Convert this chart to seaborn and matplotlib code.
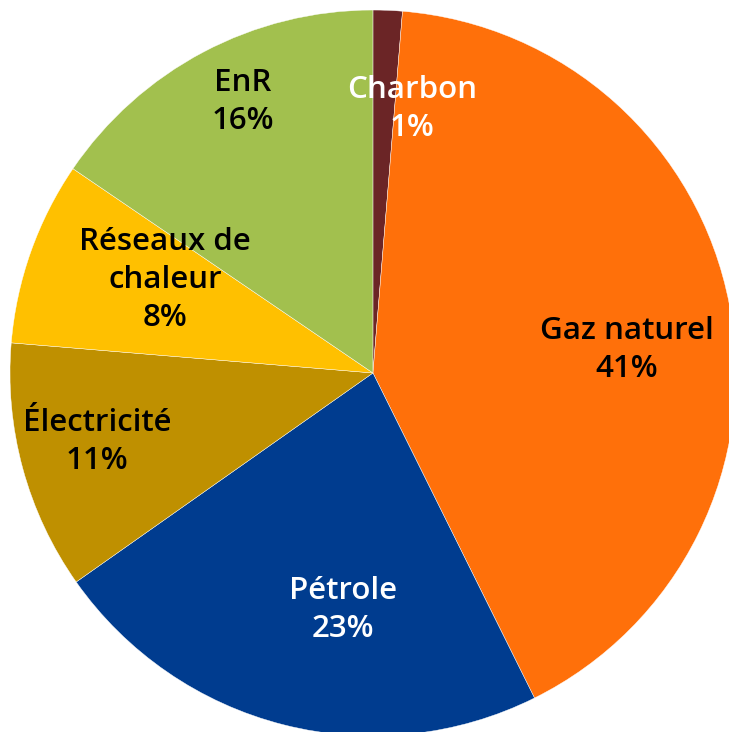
import matplotlib
matplotlib.use('Agg')
import matplotlib.pyplot as plt
import seaborn as sns

sources = ['Charbon', 'Gaz naturel', 'Pétrole', 'Électricité', 'Réseaux de\nchaleur', 'EnR']
shares = [1.3, 41.4, 22.6, 11.1, 8.2, 15.5]
pct_labels = ['1%', '41%', '23%', '11%', '8%', '16%']

sns.set_style('white')
plt.rcParams['font.family'] = ['Open Sans', 'DejaVu Sans']

colors = sns.color_palette(['#6B2526', '#FF700A', '#003C8F', '#BF9000', '#FFC000', '#A2C04E'])
text_colors = ['white', 'black', 'white', 'black', 'black', 'black']
label_pos = [(0.107, 0.727), (0.700, 0.063), (-0.083, -0.653),
             (-0.760, -0.190), (-0.573, 0.256), (-0.358, 0.747)]

fig = plt.figure(figsize=(7.29, 7.32), dpi=100)
ax = fig.add_axes([0, 0, 1, 1])
wedges, texts = ax.pie(shares, colors=colors, startangle=90, counterclock=False,
                       labels=[f'{s}\n{p}' for s, p in zip(sources, pct_labels)],
                       labeldistance=0.7,
                       wedgeprops=dict(edgecolor='white', linewidth=0.3))
for t, c, pos in zip(texts, text_colors, label_pos):
    t.set_position(pos)
    t.set_color(c)
    t.set_fontsize(22.5)
    t.set_fontweight('semibold')
    t.set_ha('center')
    t.set_va('center')
    t.set_linespacing(1.35)

ax.set_xlim(-1.0275, 0.981)
ax.set_ylim(-0.989, 1.0275)
ax.set_aspect('equal')
ax.axis('off')
fig.savefig('out.png', dpi=100)
